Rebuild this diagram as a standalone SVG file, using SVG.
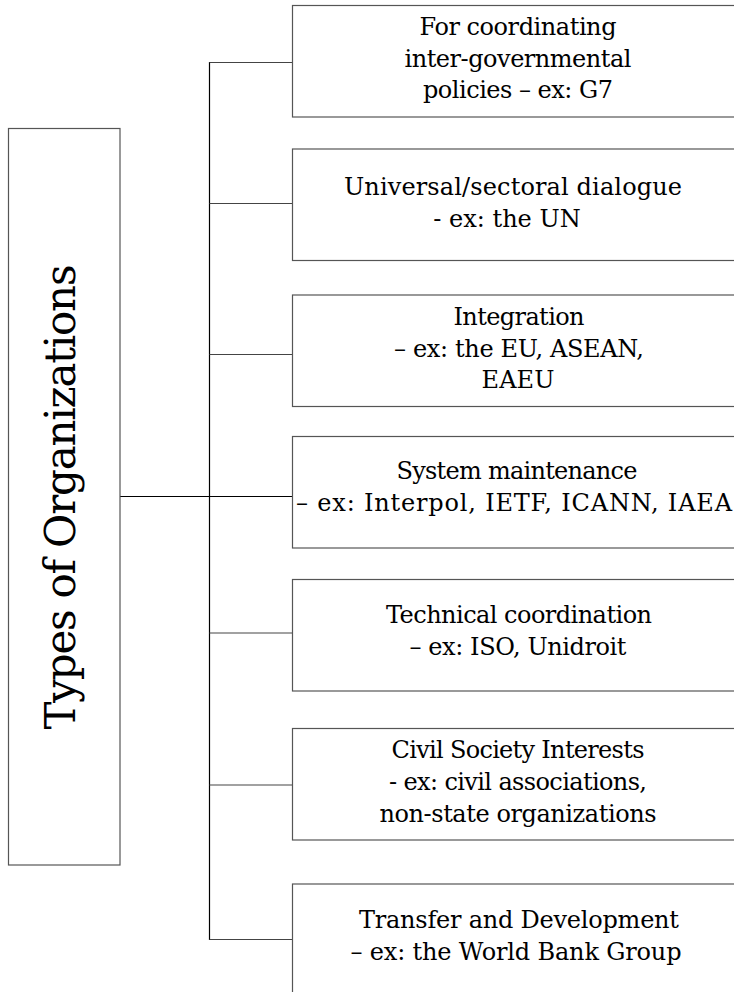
<svg xmlns="http://www.w3.org/2000/svg" width="734" height="992" viewBox="0 0 734 992">
<style>
.box{fill:#fff;stroke:#555;stroke-width:1.2}
.ln{stroke:#000;stroke-width:1.2;fill:none}
.tk{stroke:#444;stroke-width:1.2;fill:none}
text{font-family:"DejaVu Serif","Liberation Serif",serif;font-size:24px;fill:#000;text-anchor:middle}
.big{font-size:42px}
</style>
<rect width="734" height="992" fill="#fff"/>
<g id="connectors">
<line class="ln" x1="209.5" y1="62" x2="209.5" y2="940"/>
<line class="ln" x1="120" y1="496.5" x2="292.5" y2="496.5"/>
<line class="tk" x1="209.5" y1="62.5" x2="292.5" y2="62.5"/>
<line class="tk" x1="209.5" y1="203.5" x2="292.5" y2="203.5"/>
<line class="tk" x1="209.5" y1="354.5" x2="292.5" y2="354.5"/>
<line class="tk" x1="209.5" y1="633" x2="292.5" y2="633"/>
<line class="tk" x1="209.5" y1="785" x2="292.5" y2="785"/>
<line class="tk" x1="209.5" y1="939.5" x2="292.5" y2="939.5"/>
</g>
<g id="root">
<rect class="box" x="8.5" y="128.5" width="111.5" height="736.5"/>
<text class="big" transform="translate(75,497) rotate(-90)" x="0" y="0" textLength="465" lengthAdjust="spacing">Types of Organizations</text>
</g>
<g id="n1">
<rect class="box" x="292.5" y="5.5" width="460" height="111.5"/>
<text x="518" y="35" textLength="197" lengthAdjust="spacing">For coordinating</text>
<text x="518" y="66.5" textLength="227" lengthAdjust="spacing">inter-governmental</text>
<text x="518" y="98" textLength="190" lengthAdjust="spacing">policies – ex: G7</text>
</g>
<g id="n2">
<rect class="box" x="292.5" y="149" width="460" height="111.5"/>
<text x="513" y="195" textLength="338" lengthAdjust="spacing">Universal/sectoral dialogue</text>
<text x="507" y="226.5">- ex: the UN</text>
</g>
<g id="n3">
<rect class="box" x="292.5" y="295" width="460" height="111.5"/>
<text x="519" y="325" textLength="131" lengthAdjust="spacing">Integration</text>
<text x="519" y="356.5" textLength="250" lengthAdjust="spacing">– ex: the EU, ASEAN,</text>
<text x="518" y="388" textLength="73" lengthAdjust="spacing">EAEU</text>
</g>
<g id="n4">
<rect class="box" x="292.5" y="436.5" width="460" height="111.5"/>
<text x="517" y="479" textLength="241" lengthAdjust="spacing">System maintenance</text>
<text x="514" y="511" textLength="436" lengthAdjust="spacing">– ex: Interpol, IETF, ICANN, IAEA</text>
</g>
<g id="n5">
<rect class="box" x="292.5" y="579.5" width="460" height="111.5"/>
<text x="519" y="623" textLength="266" lengthAdjust="spacing">Technical coordination</text>
<text x="518" y="655" textLength="217" lengthAdjust="spacing">– ex: ISO, Unidroit</text>
</g>
<g id="n6">
<rect class="box" x="292.5" y="728.5" width="460" height="111.5"/>
<text x="518" y="758" textLength="253" lengthAdjust="spacing">Civil Society Interests</text>
<text x="518" y="790" textLength="258" lengthAdjust="spacing">- ex: civil associations,</text>
<text x="518" y="821.5" textLength="277" lengthAdjust="spacing">non-state organizations</text>
</g>
<g id="n7">
<rect class="box" x="292.5" y="884" width="460" height="112"/>
<text x="519" y="928" textLength="320" lengthAdjust="spacing">Transfer and Development</text>
<text x="516" y="960" textLength="331" lengthAdjust="spacing">– ex: the World Bank Group</text>
</g>
</svg>
